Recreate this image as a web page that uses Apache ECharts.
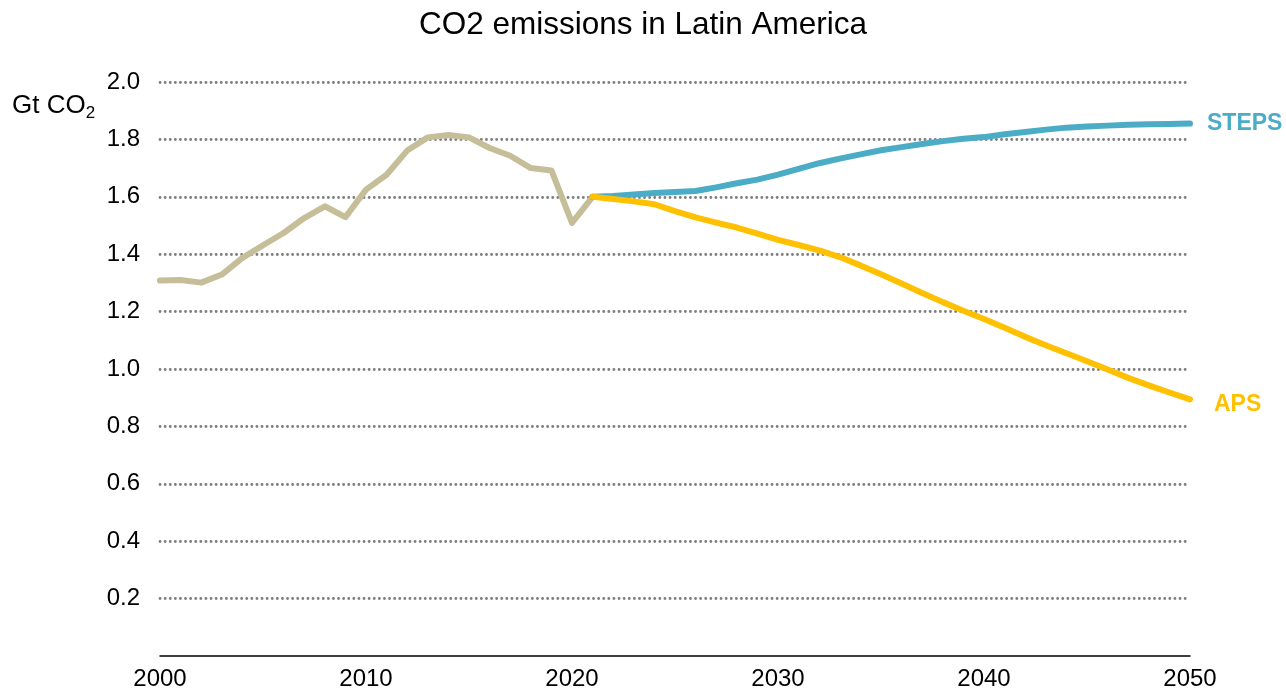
<!DOCTYPE html>
<html>
<head>
<meta charset="utf-8">
<script src="https://cdn.jsdelivr.net/npm/echarts@6/dist/echarts.min.js"></script>
<style>
html,body{margin:0;padding:0;background:#fff;}
#c{width:1286px;height:691px;}
</style>
</head>
<body>
<div id="c"></div>
<script>
var histYears = [2000,2001,2002,2003,2004,2005,2006,2007,2008,2009,2010,2011,2012,2013,2014,2015,2016,2017,2018,2019,2020,2021];
var histValues = [1.308,1.310,1.301,1.329,1.387,1.431,1.474,1.526,1.567,1.529,1.625,1.677,1.761,1.807,1.815,1.807,1.770,1.743,1.700,1.692,1.509,1.600];
var projYears = [2021,2022,2023,2024,2025,2026,2027,2028,2029,2030,2031,2032,2033,2034,2035,2036,2037,2038,2039,2040,2041,2042,2043,2044,2045,2046,2047,2048,2049,2050];
var stepsValues = [1.600,1.603,1.608,1.613,1.617,1.620,1.633,1.647,1.660,1.677,1.697,1.717,1.733,1.748,1.762,1.773,1.784,1.794,1.802,1.808,1.818,1.826,1.834,1.841,1.845,1.848,1.851,1.853,1.854,1.855];
var apsValues = [1.600,1.592,1.584,1.574,1.550,1.528,1.510,1.493,1.472,1.450,1.432,1.413,1.390,1.361,1.330,1.298,1.265,1.233,1.203,1.174,1.144,1.112,1.083,1.055,1.027,0.998,0.969,0.943,0.918,0.894];
var xTicks = [2000,2010,2020,2030,2040,2050];
var yTicks = [0.2,0.4,0.6,0.8,1.0,1.2,1.4,1.6,1.8,2.0];

function pairs(xs, ys){ return xs.map(function(x,i){ return [x, ys[i]]; }); }

var FONT = '"Liberation Sans", Arial, sans-serif';
var chart = echarts.init(document.getElementById('c'));
chart.setOption({
  animation: false,
  backgroundColor: '#ffffff',
  title: {
    text: 'CO2 emissions in Latin America',
    left: 'center',
    top: 4,
    textStyle: {fontFamily: FONT, fontSize: 31.5, fontWeight: 'normal', color: '#000'}
  },
  graphic: [{
    type: 'text',
    left: 12,
    top: 93,
    style: {
      text: '{a|Gt CO}{b|2}',
      rich: {
        a: {fontFamily: FONT, fontSize: 26, color: '#000', lineHeight: 32, verticalAlign: 'middle'},
        b: {fontFamily: FONT, fontSize: 17, color: '#000', lineHeight: 17, verticalAlign: 'bottom'}
      }
    }
  }],
  grid: {left: 160, right: 96, top: 82, bottom: 33, containLabel: false},
  xAxis: {
    type: 'value',
    min: 2000, max: 2050, interval: 10,
    axisLine: {show: true, lineStyle: {color: '#000', width: 1.5}},
    axisTick: {show: false},
    splitLine: {show: false},
    axisLabel: {
      margin: 11,
      fontFamily: FONT, fontSize: 24, color: '#000',
      formatter: function(v){ return xTicks.indexOf(v) >= 0 ? String(v) : ''; }
    }
  },
  yAxis: {
    type: 'value',
    min: 0, max: 2, interval: 0.2,
    axisLine: {show: false},
    axisTick: {show: false},
    splitLine: {show: true, showMinLine: false, lineStyle: {color: '#7f7f7f', width: 2.8, type: [0.1, 5], cap: 'round'}},
    axisLabel: {
      margin: 20,
      fontFamily: FONT, fontSize: 24, color: '#000',
      formatter: function(v){
        var t = yTicks.filter(function(y){ return Math.abs(y - v) < 1e-6; });
        return t.length ? t[0].toFixed(1) : '';
      }
    }
  },
  series: [
    {
      name: 'Historical', type: 'line', data: pairs(histYears, histValues),
      showSymbol: false, symbol: 'none',
      lineStyle: {color: '#C5BE98', width: 6, cap: 'round', join: 'round'},
      z: 2
    },
    {
      name: 'STEPS', type: 'line', data: pairs(projYears, stepsValues),
      showSymbol: false, symbol: 'none',
      lineStyle: {color: '#4BACC6', width: 6, cap: 'round', join: 'round'},
      endLabel: {show: true, formatter: 'STEPS', offset: [9, 0], fontFamily: FONT, fontSize: 23, fontWeight: 'bold', color: '#4BACC6'},
      z: 3
    },
    {
      name: 'APS', type: 'line', data: pairs(projYears, apsValues),
      showSymbol: false, symbol: 'none',
      lineStyle: {color: '#FFC000', width: 6, cap: 'round', join: 'round'},
      endLabel: {show: true, formatter: 'APS', offset: [16, 5], fontFamily: FONT, fontSize: 23, fontWeight: 'bold', color: '#FFC000'},
      z: 4
    }
  ]
});
</script>
</body>
</html>
